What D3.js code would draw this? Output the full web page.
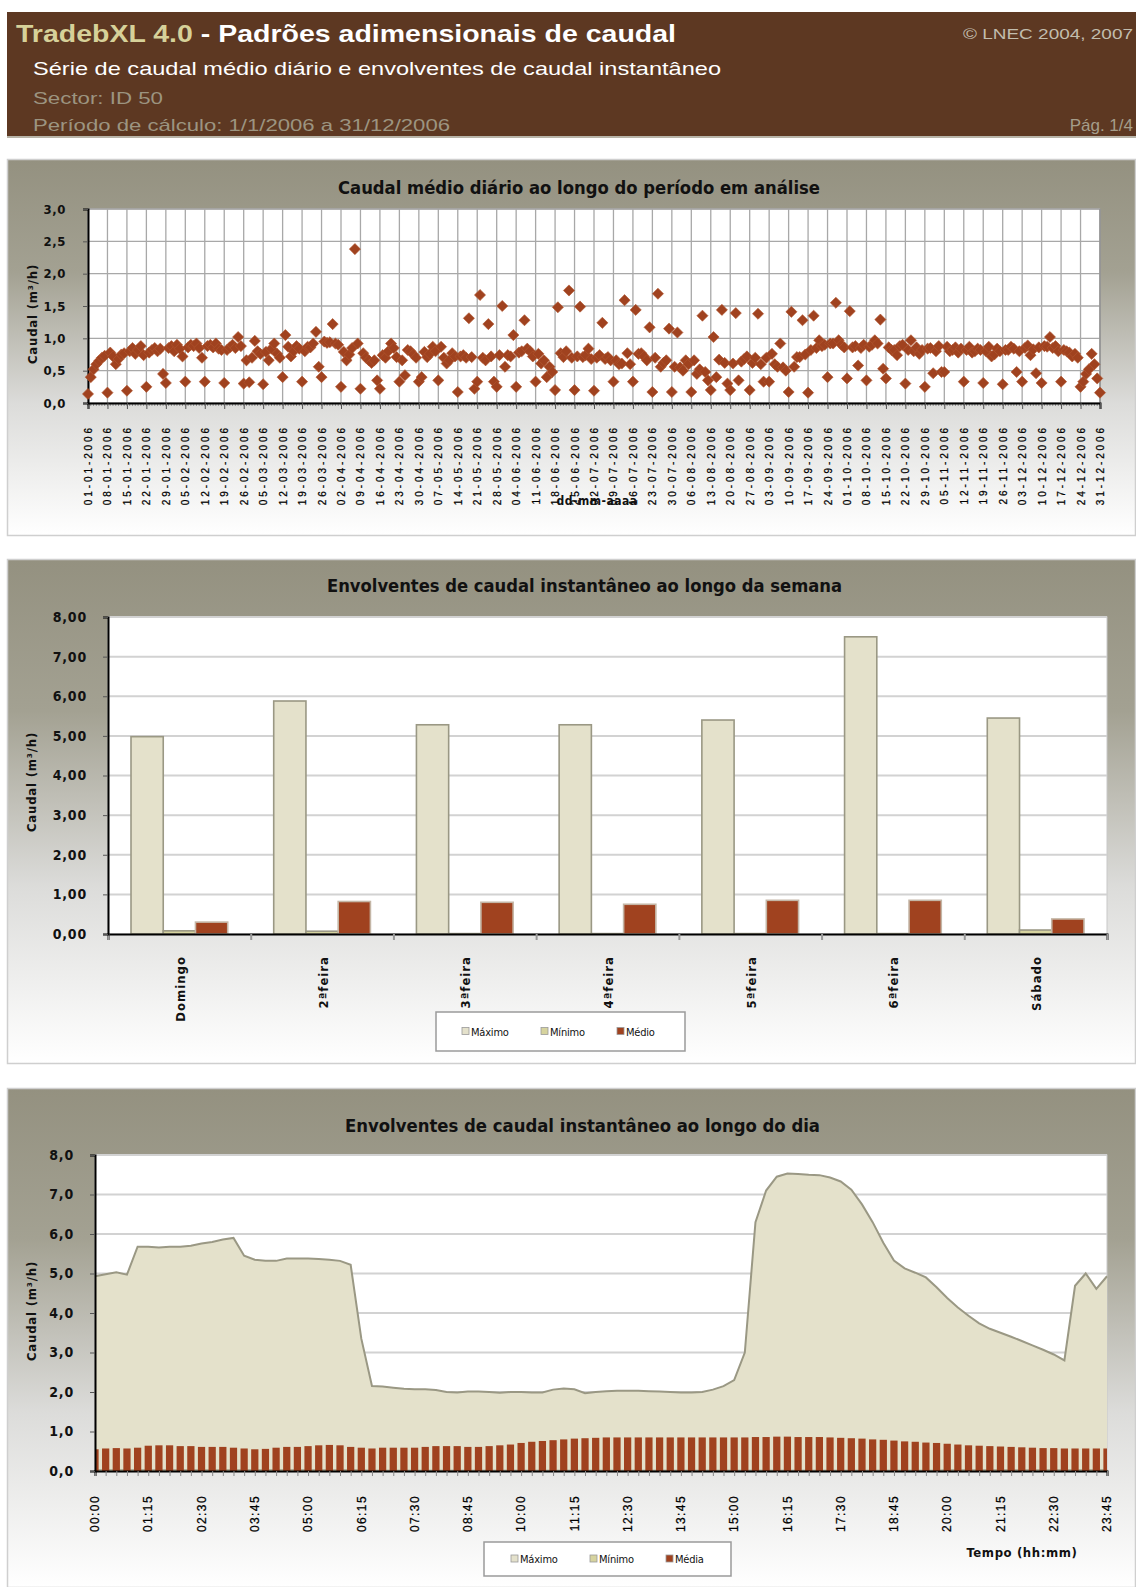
<!DOCTYPE html>
<html><head><meta charset="utf-8">
<script src="https://cdn.jsdelivr.net/npm/d3@7"></script>
<style>body{margin:0;background:#fff}svg{display:block}</style>
</head><body>
<svg id="c" width="1136" height="1587"></svg>
<script>
// ---------- DATA ----------
const dailyFlow = [
0.14,0.40,0.52,0.60,0.65,0.70,0.73, 0.16,0.78,0.72,0.60,0.68,0.75,0.77,
0.19,0.80,0.85,0.76,0.82,0.88,0.74, 0.25,0.78,0.82,0.85,0.80,0.84,0.45,
0.31,0.85,0.88,0.80,0.90,0.84,0.72, 0.33,0.86,0.90,0.88,0.92,0.85,0.70,
0.33,0.88,0.90,0.86,0.92,0.84,0.82, 0.31,0.82,0.86,0.90,0.85,1.02,0.88,
0.30,0.66,0.32,0.70,0.96,0.80,0.76, 0.29,0.79,0.66,0.84,0.92,0.76,0.70,
0.40,1.05,0.87,0.72,0.80,0.88,0.84, 0.33,0.80,0.87,0.86,0.92,1.10,0.56,
0.40,0.95,0.93,0.94,1.22,0.92,0.90, 0.25,0.79,0.66,0.75,0.85,2.38,0.92,
0.22,0.77,0.70,0.66,0.62,0.66,0.35, 0.22,0.74,0.70,0.80,0.92,0.85,0.71,
0.33,0.66,0.43,0.82,0.80,0.75,0.70, 0.33,0.40,0.79,0.71,0.76,0.87,0.80,
0.35,0.87,0.70,0.61,0.66,0.77,0.72, 0.17,0.72,0.74,0.70,1.31,0.71,0.22,
0.33,1.67,0.70,0.66,1.22,0.72,0.33, 0.25,0.74,1.50,0.56,0.74,0.72,1.05,
0.25,0.78,0.80,1.28,0.84,0.80,0.72, 0.33,0.76,0.61,0.66,0.40,0.56,0.48,
0.20,1.48,0.77,0.71,0.80,1.74,0.70, 0.20,0.72,1.49,0.71,0.74,0.84,0.68,
0.19,0.70,0.74,1.24,0.68,0.71,0.66, 0.33,0.66,0.60,0.61,1.59,0.77,0.60,
0.33,1.44,0.76,0.77,0.72,0.66,1.17, 0.17,0.70,1.69,0.56,0.62,0.66,1.15,
0.17,0.56,1.09,0.55,0.50,0.66,0.60, 0.17,0.66,0.45,0.52,1.35,0.48,0.35,
0.20,1.02,0.40,0.67,1.44,0.62,0.30, 0.20,0.61,1.39,0.35,0.64,0.68,0.72,
0.20,0.62,0.70,1.38,0.60,0.33,0.70, 0.33,0.76,0.60,0.56,0.92,0.55,0.50,
0.17,1.41,0.56,0.71,0.71,1.28,0.75, 0.16,0.82,1.35,0.85,0.97,0.88,0.90,
0.40,0.92,0.92,1.55,0.97,0.90,0.86, 0.38,1.42,0.86,0.88,0.58,0.85,0.90,
0.35,0.87,0.90,0.97,0.92,1.29,0.53, 0.38,0.86,0.82,0.82,0.74,0.88,0.90,
0.30,0.82,0.97,0.80,0.86,0.76,0.82, 0.25,0.84,0.85,0.46,0.80,0.88,0.48,
0.48,0.87,0.80,0.82,0.86,0.78,0.84, 0.33,0.82,0.87,0.78,0.80,0.84,0.82,
0.31,0.80,0.87,0.72,0.75,0.84,0.80, 0.29,0.82,0.82,0.87,0.84,0.48,0.80,
0.33,0.85,0.89,0.74,0.83,0.46,0.86, 0.31,0.88,0.87,1.02,0.85,0.88,0.80,
0.33,0.82,0.80,0.78,0.72,0.76,0.70, 0.25,0.33,0.45,0.52,0.76,0.60,0.38,
0.16];
const dateTickLabels = ["01-01-2006","08-01-2006","15-01-2006","22-01-2006","29-01-2006","05-02-2006","12-02-2006","19-02-2006","26-02-2006","05-03-2006","12-03-2006","19-03-2006","26-03-2006","02-04-2006","09-04-2006","16-04-2006","23-04-2006","30-04-2006","07-05-2006","14-05-2006","21-05-2006","28-05-2006","04-06-2006","11-06-2006","18-06-2006","25-06-2006","02-07-2006","09-07-2006","16-07-2006","23-07-2006","30-07-2006","06-08-2006","13-08-2006","20-08-2006","27-08-2006","03-09-2006","10-09-2006","17-09-2006","24-09-2006","01-10-2006","08-10-2006","15-10-2006","22-10-2006","29-10-2006","05-11-2006","12-11-2006","19-11-2006","26-11-2006","03-12-2006","10-12-2006","17-12-2006","24-12-2006","31-12-2006"];

const weekDays = ["Domingo","2ªfeira","3ªfeira","4ªfeira","5ªfeira","6ªfeira","Sábado"];
const weekMax  = [4.98,5.88,5.28,5.28,5.40,7.50,5.45];
const weekMin  = [0.08,0.07,0.01,0.01,0.01,0.01,0.10];
const weekMean = [0.30,0.82,0.80,0.75,0.85,0.85,0.38];

const dayMax = [
4.93,4.98,5.03,4.97,5.68,5.68,5.66,5.68,5.68,5.70,
5.76,5.80,5.86,5.90,5.45,5.35,5.32,5.32,5.38,5.38,
5.38,5.37,5.35,5.32,5.22,3.35,2.15,2.14,2.11,2.08,
2.07,2.07,2.05,2.00,1.99,2.01,2.01,2.00,1.98,2.00,
2.00,1.99,1.99,2.06,2.09,2.07,1.97,2.00,2.02,2.03,
2.03,2.03,2.02,2.01,2.00,1.99,1.99,2.00,2.06,2.15,
2.30,3.00,6.30,7.10,7.45,7.53,7.52,7.50,7.49,7.43,
7.33,7.12,6.75,6.30,5.78,5.33,5.13,5.02,4.90,4.65,
4.38,4.14,3.93,3.74,3.60,3.50,3.40,3.29,3.18,3.07,
2.95,2.80,4.69,5.00,4.61,4.93];
const dayMin = [
0.03,0.03,0.03,0.03,0.03,0.03,0.03,0.03,0.03,0.03,
0.03,0.03,0.03,0.03,0.03,0.03,0.03,0.03,0.03,0.03,
0.03,0.03,0.03,0.03,0.03,0.03,0.02,0.02,0.02,0.02,
0.02,0.02,0.02,0.02,0.02,0.02,0.02,0.02,0.02,0.02,
0.02,0.02,0.02,0.02,0.02,0.02,0.02,0.02,0.02,0.02,
0.02,0.02,0.02,0.02,0.02,0.02,0.02,0.02,0.02,0.02,
0.02,0.02,0.02,0.02,0.02,0.02,0.02,0.02,0.02,0.02,
0.02,0.02,0.02,0.02,0.02,0.02,0.02,0.02,0.02,0.02,
0.03,0.03,0.03,0.03,0.03,0.03,0.03,0.03,0.03,0.03,
0.03,0.03,0.03,0.03,0.03,0.03];
const dayMean = [
0.55,0.57,0.58,0.57,0.59,0.64,0.65,0.65,0.63,0.63,
0.61,0.61,0.61,0.59,0.57,0.55,0.56,0.59,0.61,0.61,
0.63,0.65,0.66,0.65,0.61,0.59,0.57,0.59,0.59,0.59,
0.59,0.61,0.63,0.63,0.63,0.61,0.61,0.63,0.65,0.67,
0.71,0.74,0.76,0.78,0.80,0.82,0.83,0.84,0.85,0.85,
0.85,0.85,0.85,0.85,0.85,0.85,0.85,0.85,0.85,0.85,
0.85,0.85,0.86,0.86,0.87,0.87,0.86,0.86,0.86,0.85,
0.84,0.83,0.82,0.80,0.79,0.77,0.75,0.74,0.72,0.71,
0.69,0.67,0.65,0.64,0.63,0.62,0.61,0.60,0.59,0.58,
0.58,0.57,0.57,0.57,0.57,0.57];
const timeTickLabels = ["00:00","01:15","02:30","03:45","05:00","06:15","07:30","08:45","10:00","11:15","12:30","13:45","15:00","16:15","17:30","18:45","20:00","21:15","22:30","23:45"];

// ---------- STYLE ----------
const NARROW = "'Liberation Sans Narrow','Arial Narrow','DejaVu Sans Condensed',sans-serif";
const SANS = "'Liberation Sans',Arial,sans-serif";
const RUST = "#a0421f";
const BEIGE = "#e4e1cb";
const BEIGE_STROKE = "#9a9884";
const MINCOL = "#d6d39e";

const svg = d3.select("#c");
const defs = svg.append("defs");
const grad = defs.append("linearGradient").attr("id","pg").attr("x1",0).attr("y1",0).attr("x2",0).attr("y2",1);
grad.append("stop").attr("offset","0%").attr("stop-color","#949180");
grad.append("stop").attr("offset","30%").attr("stop-color","#a3a192");
grad.append("stop").attr("offset","65%").attr("stop-color","#dcdcda");
grad.append("stop").attr("offset","100%").attr("stop-color","#ffffff");

const comma = (f) => (d) => d3.format(f)(d).replace(".", ",");

// ---------- HEADER ----------
const hdr = svg.append("g");
hdr.append("rect").attr("x",7).attr("y",12).attr("width",1129).attr("height",124).attr("fill","#5d3822");
hdr.append("line").attr("x1",7).attr("x2",1136).attr("y1",137).attr("y2",137).attr("stroke","#b8b4a8").attr("stroke-width",2);
const t1 = hdr.append("text").attr("x",16).attr("y",42).attr("font-family",SANS).attr("font-weight","bold").attr("font-size",24)
  .attr("textLength",660).attr("lengthAdjust","spacingAndGlyphs");
t1.append("tspan").attr("fill","#d6d199").text("TradebXL 4.0");
t1.append("tspan").attr("fill","#ffffff").text(" - Padrões adimensionais de caudal");
hdr.append("text").attr("x",33).attr("y",75).attr("font-family",SANS).attr("font-size",19).attr("fill","#ffffff")
  .attr("textLength",688).attr("lengthAdjust","spacingAndGlyphs").text("Série de caudal médio diário e envolventes de caudal instantâneo");
hdr.append("text").attr("x",33).attr("y",104).attr("font-family",SANS).attr("font-size",17).attr("fill","#9c9480")
  .attr("textLength",130).attr("lengthAdjust","spacingAndGlyphs").text("Sector: ID 50");
hdr.append("text").attr("x",33).attr("y",131).attr("font-family",SANS).attr("font-size",17).attr("fill","#9c9480")
  .attr("textLength",417).attr("lengthAdjust","spacingAndGlyphs").text("Período de cálculo: 1/1/2006 a 31/12/2006");
hdr.append("text").attr("x",1133).attr("y",39).attr("text-anchor","end").attr("font-family",SANS).attr("font-size",15).attr("fill","#c2bdae")
  .attr("textLength",170).attr("lengthAdjust","spacingAndGlyphs").text("© LNEC 2004, 2007");
hdr.append("text").attr("x",1133).attr("y",131).attr("text-anchor","end").attr("font-family",SANS).attr("font-size",17).attr("fill","#a59d8a")
  .text("Pág. 1/4");

function panel(y0, y1) {
  svg.append("rect").attr("x",7.5).attr("y",y0+0.5).attr("width",1128).attr("height",y1-y0)
    .attr("fill","url(#pg)").attr("stroke","#cfcfcf").attr("stroke-width",1.5);
}
function title(x, y, w, str) {
  svg.append("text").attr("x",x).attr("y",y).attr("font-family",NARROW).attr("font-weight","bold").attr("font-size",17)
    .attr("fill","#111").attr("textLength",w).attr("lengthAdjust","spacingAndGlyphs").text(str);
}
function yTitle(x, cy, str) {
  svg.append("text").attr("transform",`translate(${x},${cy}) rotate(-90)`).attr("text-anchor","middle")
    .attr("font-family",NARROW).attr("font-weight","bold").attr("font-size",13).attr("fill","#111")
    .attr("letter-spacing",0.8).text(str);
}
function styleAxis(g, size) {
  g.select(".domain").attr("stroke","#000").attr("stroke-width",2);
  g.selectAll(".tick line").attr("stroke","#555");
  g.selectAll(".tick text").attr("font-family",NARROW).attr("font-weight","bold").attr("font-size",size).attr("fill","#111");
}

// ---------- CHART 1 ----------
panel(159, 535);
title(338, 194, 482, "Caudal médio diário ao longo do período em análise");
const P1 = {l:88, r:1100, t:209, b:403};
const x1 = d3.scaleLinear().domain([0, dailyFlow.length-1]).range([P1.l, P1.r]);
const y1 = d3.scaleLinear().domain([0, 3]).range([P1.b, P1.t]);
svg.append("rect").attr("x",P1.l).attr("y",P1.t).attr("width",P1.r-P1.l).attr("height",P1.b-P1.t).attr("fill","#fff").attr("stroke","#9a9a9a");
const weekIdx = d3.range(0, dailyFlow.length, 7);
svg.append("g").selectAll("line").data(weekIdx).join("line")
  .attr("x1",d=>x1(d)).attr("x2",d=>x1(d)).attr("y1",P1.t).attr("y2",P1.b).attr("stroke","#a8a8a8").attr("stroke-width",1.3);
svg.append("g").selectAll("line").data(d3.range(0.5, 3.01, 0.5)).join("line")
  .attr("x1",P1.l).attr("x2",P1.r).attr("y1",d=>y1(d)).attr("y2",d=>y1(d)).attr("stroke","#a8a8a8").attr("stroke-width",1.3);
svg.append("g").attr("transform",`translate(${P1.r},0)`).append("line").attr("y1",P1.t).attr("y2",P1.b).attr("stroke","#888");
// minor ticks (daily)
svg.append("g").selectAll("line").data(d3.range(dailyFlow.length)).join("line")
  .attr("x1",d=>x1(d)).attr("x2",d=>x1(d)).attr("y1",P1.b).attr("y2",P1.b+3).attr("stroke","#777").attr("stroke-width",0.8);
const gx1 = svg.append("g").attr("transform",`translate(0,${P1.b})`)
  .call(d3.axisBottom(x1).tickValues(weekIdx).tickSize(6).tickFormat(""));
styleAxis(gx1, 10);
const gy1 = svg.append("g").attr("transform",`translate(${P1.l},0)`)
  .call(d3.axisLeft(y1).tickValues(d3.range(0, 3.01, 0.5)).tickFormat(comma(".1f")).tickSize(5).tickPadding(17));
styleAxis(gy1, 13);
gy1.selectAll(".tick text").attr("letter-spacing",0.6);
svg.append("g").selectAll("text").data(weekIdx).join("text")
  .attr("transform",d=>`translate(${x1(d)+0.5},425) rotate(-90)`).attr("text-anchor","end").attr("dy","0.35em")
  .attr("font-family",SANS).attr("font-size",10).attr("letter-spacing",2.9).attr("fill","#000")
  .attr("stroke","#000").attr("stroke-width",0.25)
  .text((d,i)=>dateTickLabels[i]);
yTitle(37, 314, "Caudal (m³/h)");
svg.append("text").attr("x",597).attr("y",505).attr("text-anchor","middle").attr("font-family",NARROW)
  .attr("font-weight","bold").attr("font-size",12).attr("fill","#111").attr("letter-spacing",0.5).text("dd-mm-aaaa");
const diamond = d3.symbol().type(d3.symbolSquare).size(62)();
svg.append("g").selectAll("path").data(dailyFlow).join("path")
  .attr("d",diamond).attr("transform",(d,i)=>`translate(${x1(i)},${y1(d)}) rotate(45)`)
  .attr("fill",RUST).attr("stroke","#b0552f").attr("stroke-width",0.6);

// ---------- CHART 2 ----------
panel(559, 1063);
title(327, 592, 515, "Envolventes de caudal instantâneo ao longo da semana");
const P2 = {l:108, r:1107, t:617, b:934};
const x2 = d3.scaleBand().domain(weekDays).range([P2.l, P2.r]);
const seriesKeys = ["max","min","mean"];
const xi2 = d3.scaleBand().domain(seriesKeys).range([23, x2.bandwidth()-23]);
const y2 = d3.scaleLinear().domain([0, 8]).range([P2.b, P2.t]);
svg.append("rect").attr("x",P2.l).attr("y",P2.t).attr("width",P2.r-P2.l).attr("height",P2.b-P2.t).attr("fill","#fff").attr("stroke","#c8c8c8");
svg.append("g").selectAll("line").data(d3.range(1, 8.01, 1)).join("line")
  .attr("x1",P2.l).attr("x2",P2.r).attr("y1",d=>y2(d)).attr("y2",d=>y2(d)).attr("stroke","#d2d2d2").attr("stroke-width",2);
const rows2 = weekDays.map((d,i)=>({day:d, max:weekMax[i], min:weekMin[i], mean:weekMean[i]}));
const fills2 = {max:BEIGE, min:MINCOL, mean:RUST};
const strokes2 = {max:BEIGE_STROKE, min:BEIGE_STROKE, mean:"#c4b6a6"};
const bg2 = svg.append("g");
rows2.forEach(r => {
  seriesKeys.forEach(k => {
    bg2.append("rect").attr("x",x2(r.day)+xi2(k)).attr("width",xi2.bandwidth())
      .attr("y",y2(r[k])).attr("height",y2(0)-y2(r[k]))
      .attr("fill",fills2[k]).attr("stroke",strokes2[k]).attr("stroke-width",1.6);
  });
});
const gx2 = svg.append("g").attr("transform",`translate(0,${P2.b})`)
  .call(d3.axisBottom(d3.scaleLinear().domain([0,7]).range([P2.l,P2.r])).tickValues(d3.range(0,8)).tickSize(6).tickFormat(""));
styleAxis(gx2, 12);
gx2.selectAll(".tick line").attr("stroke","#999").attr("stroke-width",2);
const gy2 = svg.append("g").attr("transform",`translate(${P2.l},0)`)
  .call(d3.axisLeft(y2).tickValues(d3.range(0, 8.01, 1)).tickFormat(comma(".2f")).tickSize(5).tickPadding(16));
styleAxis(gy2, 14);
gy2.selectAll(".tick text").attr("letter-spacing",0.8);
svg.append("g").selectAll("text").data(weekDays).join("text")
  .attr("transform",d=>`translate(${x2(d)+x2.bandwidth()/2+1},956) rotate(-90)`).attr("text-anchor","end").attr("dy","0.35em")
  .attr("font-family",NARROW).attr("font-weight","bold").attr("font-size",13).attr("letter-spacing",1).attr("fill","#111")
  .text(d=>d);
yTitle(36, 782, "Caudal (m³/h)");
function legend(x0, y0, w, h, items) {
  const g = svg.append("g");
  g.append("rect").attr("x",x0).attr("y",y0).attr("width",w).attr("height",h).attr("fill","#fff").attr("stroke","#9a9a9a").attr("stroke-width",1.5);
  items.forEach(it => {
    g.append("rect").attr("x",it.x).attr("y",y0+h/2-4).attr("width",7).attr("height",7).attr("fill",it.c).attr("stroke","#999").attr("stroke-width",0.8);
    g.append("text").attr("x",it.x+9).attr("y",y0+h/2+4).attr("font-family",NARROW).attr("font-size",11).attr("fill","#111")
      .attr("letter-spacing",-0.2).text(it.t);
  });
}
legend(436, 1012, 249, 39, [{x:462,t:"Máximo",c:BEIGE},{x:541,t:"Mínimo",c:MINCOL},{x:617,t:"Médio",c:RUST}]);

// ---------- CHART 3 ----------
panel(1088, 1587);
title(345, 1132, 475, "Envolventes de caudal instantâneo ao longo do dia");
const P3 = {l:95, r:1107, t:1155, b:1471};
const x3 = d3.scaleLinear().domain([0, dayMax.length-1]).range([P3.l, P3.r]);
const y3 = d3.scaleLinear().domain([0, 8]).range([P3.b, P3.t]);
svg.append("rect").attr("x",P3.l).attr("y",P3.t).attr("width",P3.r-P3.l).attr("height",P3.b-P3.t).attr("fill","#fff").attr("stroke","#c8c8c8");
svg.append("g").selectAll("line").data(d3.range(1, 8.01, 1)).join("line")
  .attr("x1",P3.l).attr("x2",P3.r).attr("y1",d=>y3(d)).attr("y2",d=>y3(d)).attr("stroke","#d2d2d2").attr("stroke-width",2);
const area3 = d3.area().x((d,i)=>x3(i)).y0(y3(0)).y1(d=>y3(d));
const line3 = d3.line().x((d,i)=>x3(i)).y(d=>y3(d));
svg.append("path").datum(dayMax).attr("d",area3).attr("fill",BEIGE);
svg.append("path").datum(dayMax).attr("d",line3).attr("fill","none").attr("stroke",BEIGE_STROKE).attr("stroke-width",2);
svg.append("path").datum(dayMin).attr("d",area3).attr("fill",MINCOL).attr("stroke",BEIGE_STROKE).attr("stroke-width",1);
defs.append("clipPath").attr("id","clip3").append("rect").attr("x",P3.l).attr("y",P3.t).attr("width",P3.r-P3.l).attr("height",P3.b-P3.t);
const step3 = x3(1)-x3(0);
svg.append("g").attr("clip-path","url(#clip3)").selectAll("rect").data(dayMean).join("rect")
  .attr("x",(d,i)=>x3(i)-step3*0.34).attr("width",step3*0.68)
  .attr("y",d=>y3(d)).attr("height",d=>y3(0)-y3(d)).attr("fill",RUST);
const gx3 = svg.append("g").attr("transform",`translate(0,${P3.b})`)
  .call(d3.axisBottom(x3).tickValues(d3.range(dayMax.length)).tickSize(5).tickFormat(""));
styleAxis(gx3, 12);
gx3.selectAll(".tick line").attr("stroke","#888");
const gy3 = svg.append("g").attr("transform",`translate(${P3.l},0)`)
  .call(d3.axisLeft(y3).tickValues(d3.range(0, 8.01, 1)).tickFormat(comma(".1f")).tickSize(5).tickPadding(16));
styleAxis(gy3, 14);
gy3.selectAll(".tick text").attr("letter-spacing",0.8);
const labIdx3 = d3.range(0, dayMax.length, 5);
svg.append("g").selectAll("text").data(labIdx3).join("text")
  .attr("transform",d=>`translate(${x3(d)},1495) rotate(-90)`).attr("text-anchor","end").attr("dy","0.35em")
  .attr("font-family",SANS).attr("font-size",12).attr("letter-spacing",1.4).attr("fill","#000")
  .attr("stroke","#000").attr("stroke-width",0.25)
  .text((d,i)=>timeTickLabels[i]);
yTitle(36, 1311, "Caudal (m³/h)");
svg.append("text").attr("x",1022).attr("y",1557).attr("text-anchor","middle").attr("font-family",NARROW)
  .attr("font-weight","bold").attr("font-size",13).attr("fill","#111").attr("letter-spacing",0.6).text("Tempo (hh:mm)");
legend(484, 1542, 247, 34, [{x:511,t:"Máximo",c:BEIGE},{x:590,t:"Mínimo",c:MINCOL},{x:666,t:"Média",c:RUST}]);
</script>
</body></html>
